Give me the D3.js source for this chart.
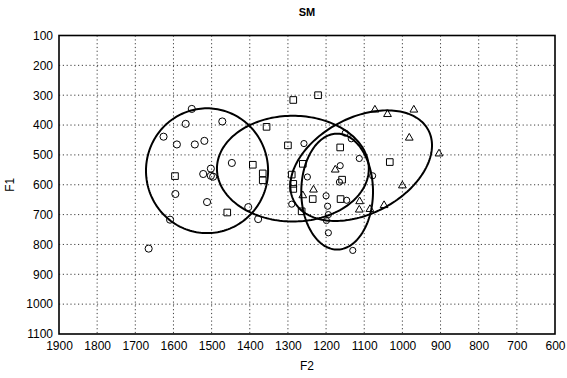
<!DOCTYPE html>
<html>
<head>
<meta charset="utf-8">
<script src="https://cdn.jsdelivr.net/npm/d3@7"></script>
<style>
  html, body { margin: 0; padding: 0; background: #fff; }
  svg { display: block; }
  text { font-family: Arial, "Liberation Sans", sans-serif; fill: #000; }
</style>
</head>
<body>
<svg id="chart" width="567" height="378"></svg>
<script>
// Axis ticks
const f2Ticks = [1900, 1800, 1700, 1600, 1500, 1400, 1300, 1200, 1100, 1000, 900, 800, 700, 600];
const f1Ticks = [100, 200, 300, 400, 500, 600, 700, 800, 900, 1000, 1100];

// Tokens per vowel group: [F2, F1]
const groupCircle = [
  [1552, 346], [1568, 396], [1472, 388], [1626, 439], [1591, 465], [1544, 465],
  [1519, 453], [1447, 527], [1522, 564], [1502, 546], [1502, 570], [1496, 573],
  [1595, 631], [1512, 658], [1404, 675], [1609, 717], [1665, 814], [1378, 715]
];
const groupSquare = [
  [1392, 533], [1596, 571], [1366, 562], [1366, 585], [1286, 316], [1221, 300],
  [1356, 406], [1300, 468], [1261, 530], [1290, 566], [1286, 597], [1286, 614],
  [1235, 648], [1264, 689], [1459, 693], [1163, 475], [1158, 583], [1162, 648],
  [1033, 524]
];
const groupTriangle = [
  [1072, 349], [1039, 364], [970, 349], [982, 443], [904, 496], [1000, 603],
  [1048, 669], [1085, 682], [1112, 656], [1113, 684], [1176, 550], [1233, 617],
  [1261, 636]
];
const groupSmall = [
  [1258, 462], [1150, 427], [1134, 446], [1113, 512], [1163, 536], [1249, 574],
  [1290, 665], [1200, 637], [1196, 672], [1194, 700], [1199, 720], [1194, 761],
  [1165, 591], [1146, 652], [1130, 820], [1078, 570]
];

// Dispersion ellipses: centre [F2, F1] and two conjugate half-axes [dF2, dF1]
const ellipseCentres = [[1512, 553], [1287, 546], [1171, 623], [1108, 536]];
const ellipseAxisU   = [[160, 0], [199, 0], [94, 0], [-176, -119]];
const ellipseAxisV   = [[0, 209], [0, 177], [0, 194], [-59, 142]];

const svg = d3.select("#chart");
const W = 567, H = 378;
const plot = { left: 59, right: 555, top: 35.5, bottom: 334 };

const x = d3.scaleLinear().domain([1900, 600]).range([plot.left, plot.right]);
const y = d3.scaleLinear().domain([100, 1100]).range([plot.top, plot.bottom]);

svg.append("rect").attr("width", W).attr("height", H).attr("fill", "#fff");

// dotted grid
const grid = svg.append("g").attr("stroke", "#000").attr("stroke-width", 1)
  .attr("stroke-dasharray", "1.2,2.6").attr("opacity", 0.75);
grid.selectAll("line.v").data(f2Ticks.slice(1, -1)).join("line")
  .attr("x1", d => x(d)).attr("x2", d => x(d))
  .attr("y1", plot.top).attr("y2", plot.bottom);
grid.selectAll("line.h").data(f1Ticks.slice(1, -1)).join("line")
  .attr("y1", d => y(d)).attr("y2", d => y(d))
  .attr("x1", plot.left).attr("x2", plot.right);

// axes (labels only; frame drawn separately)
const fmt = d3.format("d");
const xAxis = d3.axisBottom(x).tickValues(f2Ticks).tickFormat(fmt).tickSize(0).tickPadding(7);
const yAxis = d3.axisLeft(y).tickValues(f1Ticks).tickFormat(fmt).tickSize(0).tickPadding(6);
const gx = svg.append("g").attr("transform", `translate(0,${plot.bottom})`).call(xAxis);
const gy = svg.append("g").attr("transform", `translate(${plot.left},0)`).call(yAxis);
[gx, gy].forEach(g => {
  g.select(".domain").remove();
  g.selectAll("text").attr("font-size", 12).attr("font-family", "Arial, 'Liberation Sans', sans-serif").attr("fill", "#000");
});

// frame
svg.append("rect")
  .attr("x", plot.left).attr("y", plot.top)
  .attr("width", plot.right - plot.left).attr("height", plot.bottom - plot.top)
  .attr("fill", "none").attr("stroke", "#000").attr("stroke-width", 1.6);

// ellipses
const steps = d3.range(0, 2 * Math.PI, Math.PI / 90);
const line = d3.line().x(p => x(p[0])).y(p => y(p[1])).curve(d3.curveLinearClosed);
const ellipses = ellipseCentres.map((c, i) => steps.map(t => [
  c[0] + ellipseAxisU[i][0] * Math.cos(t) + ellipseAxisV[i][0] * Math.sin(t),
  c[1] + ellipseAxisU[i][1] * Math.cos(t) + ellipseAxisV[i][1] * Math.sin(t)
]));
svg.append("g").selectAll("path").data(ellipses).join("path")
  .attr("d", line).attr("fill", "none").attr("stroke", "#000").attr("stroke-width", 2);

// markers
function drawGroup(data, type, size) {
  svg.append("g").selectAll("path").data(data).join("path")
    .attr("transform", d => `translate(${x(d[0])},${y(d[1])})`)
    .attr("d", d3.symbol().type(type).size(size))
    .attr("fill", "none").attr("stroke", "#000").attr("stroke-width", 1);
}
drawGroup(groupCircle, d3.symbolCircle, 40);
drawGroup(groupSmall, d3.symbolCircle, 30);
drawGroup(groupSquare, d3.symbolSquare, 44);
drawGroup(groupTriangle, d3.symbolTriangle, 26);

// titles
svg.append("text").attr("x", (plot.left + plot.right) / 2).attr("y", 16)
  .attr("text-anchor", "middle").attr("font-size", 11).attr("font-weight", "bold").text("SM");
svg.append("text").attr("x", (plot.left + plot.right) / 2).attr("y", 370)
  .attr("text-anchor", "middle").attr("font-size", 12).text("F2");
svg.append("text").attr("transform", `translate(14,${(plot.top + plot.bottom) / 2}) rotate(-90)`)
  .attr("text-anchor", "middle").attr("font-size", 12).text("F1");
</script>
</body>
</html>
